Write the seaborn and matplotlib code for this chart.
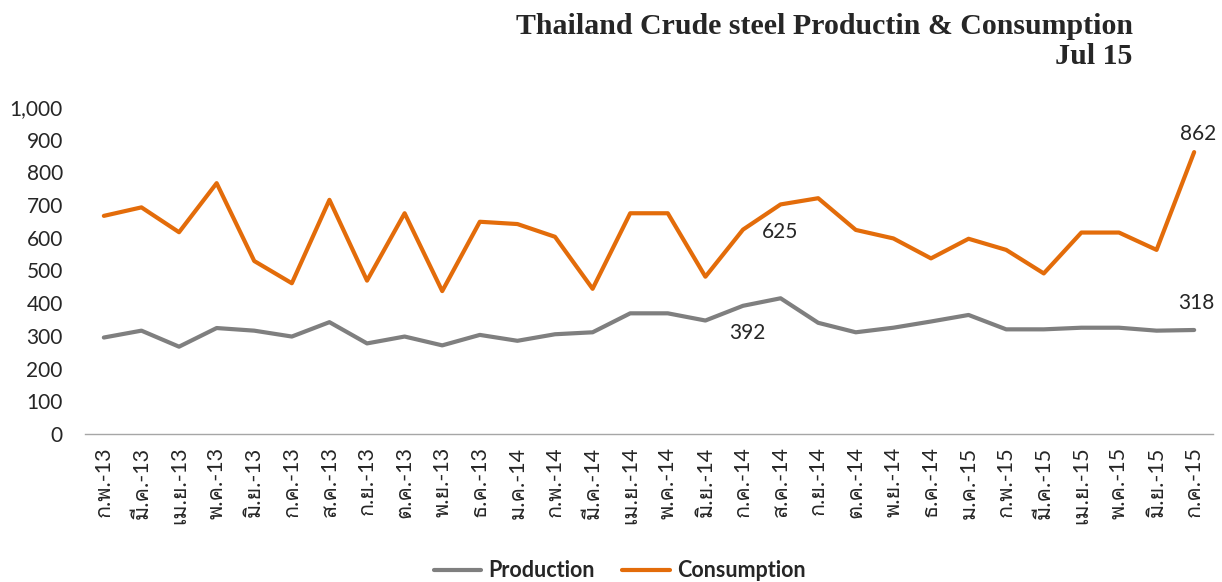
import matplotlib
matplotlib.use("Agg")
import matplotlib.pyplot as plt
from matplotlib import font_manager
from matplotlib.ft2font import FT2Font
import seaborn as sns
import pandas as pd

months = ["ก.พ.-13", "มี.ค.-13", "เม.ย.-13", "พ.ค.-13", "มิ.ย.-13", "ก.ค.-13",
          "ส.ค.-13", "ก.ย.-13", "ต.ค.-13", "พ.ย.-13", "ธ.ค.-13", "ม.ค.-14",
          "ก.พ.-14", "มี.ค.-14", "เม.ย.-14", "พ.ค.-14", "มิ.ย.-14", "ก.ค.-14",
          "ส.ค.-14", "ก.ย.-14", "ต.ค.-14", "พ.ย.-14", "ธ.ค.-14", "ม.ค.-15",
          "ก.พ.-15", "มี.ค.-15", "เม.ย.-15", "พ.ค.-15", "มิ.ย.-15", "ก.ค.-15"]

production = [295, 316, 267, 324, 316, 298, 342, 277, 298, 271,
              303, 285, 305, 311, 369, 369, 347, 392, 415, 340,
              311, 325, 344, 364, 320, 320, 325, 325, 316, 318]

consumption = [667, 693, 617, 767, 529, 461, 716, 469, 675, 437,
               649, 642, 603, 444, 675, 675, 481, 625, 702, 721,
               624, 598, 537, 597, 563, 491, 616, 616, 563, 862]

series_names = ["Production", "Consumption"]
colors = {"Production": "#7f7f7f", "Consumption": "#e36c0a"}


def thai_families():
    # look for any installed font that has Thai letters
    found = []
    for f in font_manager.fontManager.ttflist:
        try:
            if 0x0E01 in FT2Font(f.fname).get_charmap() and f.name not in found:
                found.append(f.name)
        except Exception:
            pass
    return found


sns.set_style("white")
THAI = thai_families()
plt.rcParams['font.family'] = ['Lato'] + THAI + ['DejaVu Sans']


def build_frame():
    idx = list(range(len(months)))
    df = pd.DataFrame({
        "idx": idx * 2,
        "value": production + consumption,
        "series": ["Production"] * len(months) + ["Consumption"] * len(months),
    })
    return df


def draw(df):
    fig = plt.figure(figsize=(12.22, 5.82), dpi=100)
    ax = fig.add_axes([0.0696, 0.2543, 0.9230, 0.5619])

    sns.lineplot(data=df, x="idx", y="value", hue="series", hue_order=series_names,
                 palette=colors, linewidth=3, sort=False, estimator=None, ax=ax)

    ax.set_xlim(-0.5, len(months) - 0.5)
    ax.set_ylim(0, 1000)
    ax.set_yticks(range(0, 1001, 100))
    ax.set_yticklabels([f"{v:,}" for v in range(0, 1001, 100)], fontsize=15)
    ax.set_xticks(range(len(months)))
    ax.set_xticklabels(months, rotation=90, fontsize=15.5)
    ax.tick_params(axis="y", length=0, pad=16)
    ax.tick_params(axis="x", length=0, pad=9)
    ax.set_xlabel("")
    ax.set_ylabel("")
    for s in ["top", "right", "left"]:
        ax.spines[s].set_visible(False)
    ax.spines["bottom"].set_color("#a6a6a6")
    ax.spines["bottom"].set_linewidth(1)
    ax.grid(False)

    # data labels
    last = len(months) - 1
    lab = dict(textcoords="offset points", ha="center", va="center", fontsize=15)
    ax.annotate(f"{consumption[last]}", (last, consumption[last]), xytext=(3, 13), **lab)
    ax.annotate(f"{production[last]}", (last, production[last]), xytext=(1.5, 19.5), **lab)
    ax.annotate(f"{consumption[17]}", (17, consumption[17]), xytext=(27, -1.5), **lab)
    ax.annotate(f"{production[17]}", (17, production[17]), xytext=(3, -19.5), **lab)

    fig.text(0.927, 0.9287, "Thailand Crude steel Productin & Consumption\nJul 15",
             ha="right", va="center", fontsize=21.5, fontweight="bold",
             family="Liberation Serif", linespacing=1.1)

    handles, labels = ax.get_legend_handles_labels()
    ax.get_legend().remove()
    fig.legend(handles, labels, loc="center", bbox_to_anchor=(0.507, 0.019),
               ncol=2, frameon=False, prop={"weight": "bold", "size": 15.5},
               handlelength=2.2, handletextpad=0.33, columnspacing=1.3)

    fig.savefig("out.png", dpi=100)


def main():
    df = build_frame()
    draw(df)


if __name__ == "__main__":
    main()
